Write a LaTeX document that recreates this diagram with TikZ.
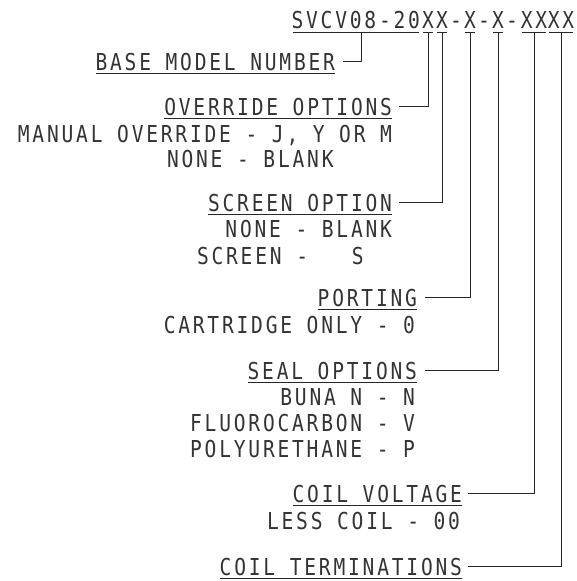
\documentclass[tikz,border=0pt]{standalone}
\usepackage{fontspec}
\setmonofont[FakeStretch=0.84,LetterSpace=12]{DejaVu Sans Mono}
\begin{document}
\begin{tikzpicture}[x=1pt,y=-1pt,
  every node/.style={inner sep=0pt,outer sep=0pt,text=black!80,
    font=\ttfamily\fontsize{23.3}{26}\selectfont},
  code/.style={anchor=base},
  lbl/.style={anchor=base east},
  sub/.style={anchor=base east},
  subl/.style={anchor=base west},
  ul/.style={line width=0.9pt,black!85},
  lead/.style={line width=0.9pt,black!85}]
\useasboundingbox (0,0) rectangle (576,581);
% header code
\node[code,anchor=base east] (c0) at (420,28) {SVCV08-20};
\node[code] (x1) at (428,28) {X};
\node[code] (x2) at (442,28) {X};
\node[code] (d1) at (456,28) {-};
\node[code] (x3) at (470,28) {X};
\node[code] (d2) at (484,28) {-};
\node[code] (x4) at (498,28) {X};
\node[code] (d3) at (512,28) {-};
\node[code] (x5) at (534,28) {XX};
\node[code] (x6) at (561,28) {XX};
\foreach \n in {c0,x1,x2,x3,x4,x5,x6}
  \draw[ul] ([shift={(1pt,-4pt)}]\n.base west) -- ([shift={(-1pt,-4pt)}]\n.base east);
% labels
\node[lbl] (base) at (335,70) {BASE MODEL NUMBER};
\node[lbl] (ovr) at (392,115) {OVERRIDE OPTIONS};
\node[sub] (ovr1) at (392,142) {MANUAL OVERRIDE - J, Y OR M};
\node[subl] (ovr2) at (167,167) {NONE - BLANK};
\node[lbl] (scr) at (392,211) {SCREEN OPTION};
\node[sub] (scr1) at (392,237) {NONE - BLANK};
\node[subl] (scr2) at (197,264) {SCREEN -\ \ \ S};
\node[lbl] (port) at (417,306) {PORTING};
\node[sub] (port1) at (415,333) {CARTRIDGE ONLY - 0};
\node[lbl] (seal) at (417,379) {SEAL OPTIONS};
\node[sub] (seal1) at (415,405) {BUNA N - N};
\node[sub] (seal2) at (415,431) {FLUOROCARBON - V};
\node[sub] (seal3) at (415,457) {POLYURETHANE - P};
\node[lbl] (coil) at (462,502) {COIL VOLTAGE};
\node[sub] (coil1) at (460,529) {LESS COIL - 00};
\node[lbl] (term) at (462,575) {COIL TERMINATIONS};
\foreach \n in {base,ovr,scr,port,seal,coil,term}
  \draw[ul] ([shift={(0pt,-3pt)}]\n.base west) -- ([shift={(0pt,-3pt)}]\n.base east);
% leaders
\draw[lead] ([shift={(6pt,-4pt)}]c0.base) |- ([xshift=8pt]base.east);
\draw[lead] ([yshift=-4pt]x1.base) |- ([xshift=7pt]ovr.east);
\draw[lead] ([yshift=-4pt]x2.base) |- ([xshift=7pt]scr.east);
\draw[lead] ([yshift=-4pt]x3.base) |- ([xshift=8pt]port.east);
\draw[lead] ([yshift=-4pt]x4.base) |- ([xshift=8pt]seal.east);
\draw[lead] ([yshift=-4pt]x5.base) |- ([xshift=6pt]coil.east);
\draw[lead] ([yshift=-4pt]x6.base) |- ([xshift=6pt]term.east);
\end{tikzpicture}
\end{document}
